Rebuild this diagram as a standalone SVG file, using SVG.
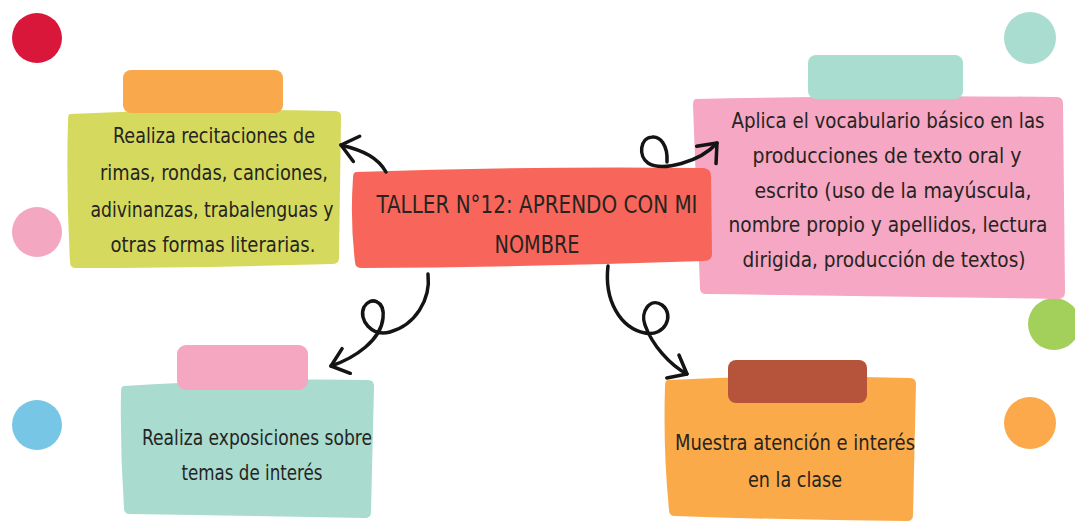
<svg xmlns="http://www.w3.org/2000/svg" width="1075" height="523" viewBox="0 0 1075 523">
<defs>
<style>
.t{font-family:"DejaVu Sans Condensed","DejaVu Sans","Liberation Sans",sans-serif;font-stretch:condensed;font-size:21px;fill:#26241f;text-anchor:middle}
.title{font-size:24px}
.c{fill:none;stroke:#141414;stroke-width:3.5;stroke-linecap:round;stroke-linejoin:round}
</style>
<marker id="ah" viewBox="-20 -16 24 32" markerWidth="24" markerHeight="32" refX="0" refY="0" orient="auto" markerUnits="userSpaceOnUse">
<path d="M-16,-13 L0,0 L-16,13" fill="none" stroke="#141414" stroke-width="3.5" stroke-linecap="round" stroke-linejoin="round"/>
</marker>
</defs>
<rect width="1075" height="523" fill="#ffffff"/>
<g id="dots">
<circle cx="37" cy="38" r="25" fill="#d8173b"/>
<circle cx="37" cy="232" r="25" fill="#f4a7c1"/>
<circle cx="37" cy="425" r="25" fill="#78c6e6"/>
<circle cx="1030" cy="38" r="26" fill="#a9ddd0"/>
<circle cx="1054" cy="324" r="26" fill="#a3cf5b"/>
<circle cx="1030" cy="423" r="26" fill="#fba94a"/>
</g>
<g id="node-recitaciones">
<path d="M70,114 Q200,108 336,111 Q342,112 341,118 L339,258 Q339,264 332,264 Q200,268 76,268 Q70,268 70,262 Q66,190 68,120 Q68,114 70,114 Z" fill="#d5da5f"/>
<rect x="123" y="70" width="160" height="43" rx="8" fill="#f9a94b"/>
<text class="t" x="214" y="143" textLength="202" lengthAdjust="spacingAndGlyphs">Realiza recitaciones de</text>
<text class="t" x="214" y="180" textLength="228" lengthAdjust="spacingAndGlyphs">rimas, rondas, canciones,</text>
<text class="t" x="212" y="217" textLength="243" lengthAdjust="spacingAndGlyphs">adivinanzas, trabalenguas y</text>
<text class="t" x="213" y="252" textLength="205" lengthAdjust="spacingAndGlyphs">otras formas literarias.</text>
</g>
<g id="node-vocabulario">
<path d="M696,99 Q880,95 1057,97 Q1063,97 1063,104 L1065,292 Q1065,299 1058,299 Q880,296 706,294 Q700,294 700,288 L693,105 Q693,99 696,99 Z" fill="#f5a7c3"/>
<rect x="808" y="55" width="155" height="44" rx="8" fill="#a9ddd0"/>
<text class="t" x="888" y="128" textLength="313" lengthAdjust="spacingAndGlyphs">Aplica el vocabulario básico en las</text>
<text class="t" x="887" y="163" textLength="269" lengthAdjust="spacingAndGlyphs">producciones de texto oral y</text>
<text class="t" x="893" y="198" textLength="277" lengthAdjust="spacingAndGlyphs">escrito (uso de la mayúscula,</text>
<text class="t" x="888" y="232" textLength="319" lengthAdjust="spacingAndGlyphs">nombre propio y apellidos, lectura</text>
<text class="t" x="884" y="267" textLength="283" lengthAdjust="spacingAndGlyphs">dirigida, producción de textos)</text>
</g>
<g id="node-title">
<path d="M356,172 Q530,166 704,168 Q711,169 711,176 L712,254 Q712,261 704,261 Q530,267 362,268 Q355,268 355,262 Q350,220 353,178 Q353,172 356,172 Z" fill="#f8665b"/>
<text class="t title" x="537" y="213" textLength="321" lengthAdjust="spacingAndGlyphs">TALLER N°12: APRENDO CON MI</text>
<text class="t title" x="537" y="253" textLength="85" lengthAdjust="spacingAndGlyphs">NOMBRE</text>
</g>
<g id="node-exposiciones">
<path d="M124,386 Q250,378 368,380 Q374,380 374,386 L371,512 Q371,518 365,518 Q250,516 130,514 Q124,514 124,508 Q120,450 121,392 Q121,386 124,386 Z" fill="#a9dccf"/>
<rect x="177" y="345" width="131" height="45" rx="9" fill="#f5a6c1"/>
<text class="t" x="257" y="445" textLength="230" lengthAdjust="spacingAndGlyphs">Realiza exposiciones sobre</text>
<text class="t" x="252" y="480" textLength="141" lengthAdjust="spacingAndGlyphs">temas de interés</text>
</g>
<g id="node-atencion">
<path d="M668,380 Q790,374 910,378 Q916,378 916,384 L913,515 Q913,521 907,521 Q790,520 675,516 Q669,516 669,510 Q663,450 665,386 Q665,380 668,380 Z" fill="#fbaa4a"/>
<rect x="728" y="360" width="139" height="43" rx="8" fill="#b5533b"/>
<text class="t" x="795" y="450" textLength="240" lengthAdjust="spacingAndGlyphs">Muestra atención e interés</text>
<text class="t" x="795" y="487" textLength="94" lengthAdjust="spacingAndGlyphs">en la clase</text>
</g>
<g id="connectors">
<path class="c" d="M386,172 C378,158 365,151 341,145" marker-end="url(#ah)"/>
<path class="c" d="M667,162 C668,145 660,136 652,137 C640,138 638,156 648,163 C662,172 700,162 717,143" marker-end="url(#ah)"/>
<path class="c" d="M428,274 C431,300 415,325 390,332 C372,337 358,320 364,307 C370,296 385,300 383,318 C381,340 355,358 331,366" marker-end="url(#ah)"/>
<path class="c" d="M608,266 C604,300 620,328 645,333 C665,337 675,315 662,305 C650,297 640,312 645,325 C652,345 670,365 687,374" marker-end="url(#ah)"/>
</g>
</svg>
